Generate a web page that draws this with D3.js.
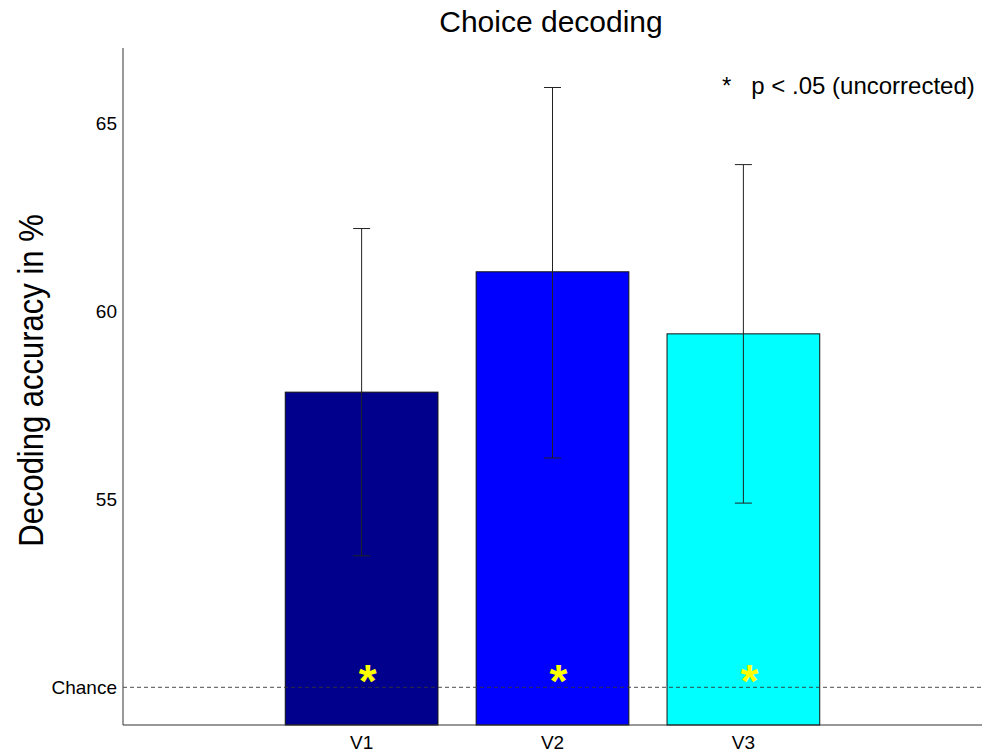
<!DOCTYPE html>
<html>
<head>
<meta charset="utf-8">
<script src="https://cdn.jsdelivr.net/npm/d3@7"></script>
<style>
  html, body { margin: 0; padding: 0; background: #fff; }
  svg { display: block; font-family: "Liberation Sans", Arial, sans-serif; }
</style>
</head>
<body>
<svg id="chart" width="982" height="753"></svg>
<script>
// Decoding accuracy per visual area
const areas = ["V1", "V2", "V3"];
const accuracy = [57.85, 61.05, 59.4];
const errLow = [53.5, 56.1, 54.9];
const errHigh = [62.2, 65.95, 63.9];
const significant = [true, true, true];
const barColors = ["#00008c", "#0000ff", "#00ffff"];
const yTicks = [55, 60, 65];
const chanceLevel = 50;

(function draw() {
  const svg = d3.select("#chart");
  const plotLeft = 123, plotRight = 982, plotTop = 48, plotBottom = 725;

  const x = d3.scaleLinear().domain([-0.25, 4.25]).range([plotLeft, plotRight]);
  const y = d3.scaleLinear().domain([49, 67]).range([plotBottom, plotTop]);
  const barW = x(0.8) - x(0);

  // Title
  svg.append("text")
    .attr("x", 551).attr("y", 32)
    .attr("text-anchor", "middle")
    .attr("font-size", 30)
    .text("Choice decoding");

  // Y axis label
  svg.append("text")
    .attr("transform", `translate(43,${(plotTop + plotBottom) / 2 - 6}) rotate(-90) scale(1,1.15)`)
    .attr("text-anchor", "middle")
    .attr("font-size", 31)
    .text("Decoding accuracy in %");

  // Bars
  areas.forEach((a, i) => {
    svg.append("rect")
      .attr("x", x(i + 1) - barW / 2)
      .attr("y", y(accuracy[i]))
      .attr("width", barW)
      .attr("height", y(49) - y(accuracy[i]))
      .attr("fill", barColors[i])
      .attr("stroke", "#111")
      .attr("stroke-width", 1);
  });

  // Chance line
  svg.append("line")
    .attr("x1", plotLeft).attr("x2", plotRight)
    .attr("y1", y(chanceLevel)).attr("y2", y(chanceLevel))
    .attr("stroke", "#333")
    .attr("stroke-opacity", 0.7)
    .attr("stroke-width", 1.2)
    .attr("stroke-dasharray", "4,3");

  // Error bars
  const cap = 8.5;
  areas.forEach((a, i) => {
    const cx = x(i + 1);
    const g = svg.append("g").attr("stroke", "#222").attr("stroke-width", 1);
    g.append("line").attr("x1", cx).attr("x2", cx).attr("y1", y(errLow[i])).attr("y2", y(errHigh[i]));
    g.append("line").attr("x1", cx - cap).attr("x2", cx + cap).attr("y1", y(errLow[i])).attr("y2", y(errLow[i]));
    g.append("line").attr("x1", cx - cap).attr("x2", cx + cap).attr("y1", y(errHigh[i])).attr("y2", y(errHigh[i]));
  });

  // Significance markers
  areas.forEach((a, i) => {
    if (!significant[i]) return;
    svg.append("text")
      .attr("x", x(i + 1) + 6)
      .attr("y", y(chanceLevel) + 10)
      .attr("text-anchor", "middle")
      .attr("font-size", 46)
      .attr("font-weight", "bold")
      .attr("fill", "#ffff00")
      .text("*");
  });

  // Axis lines
  svg.append("line")
    .attr("x1", plotLeft).attr("x2", plotLeft)
    .attr("y1", plotTop).attr("y2", plotBottom)
    .attr("stroke", "#555").attr("stroke-width", 1.2);
  svg.append("line")
    .attr("x1", plotLeft).attr("x2", plotRight)
    .attr("y1", plotBottom).attr("y2", plotBottom)
    .attr("stroke", "#333").attr("stroke-width", 1.2);

  // Y tick labels
  yTicks.forEach(t => {
    svg.append("text")
      .attr("x", plotLeft - 6).attr("y", y(t) + 7)
      .attr("text-anchor", "end")
      .attr("font-size", 19)
      .text(t);
  });
  svg.append("text")
    .attr("x", plotLeft - 6).attr("y", y(chanceLevel) + 7)
    .attr("text-anchor", "end")
    .attr("font-size", 19)
    .text("Chance");

  // X tick labels
  areas.forEach((a, i) => {
    svg.append("text")
      .attr("x", x(i + 1)).attr("y", 749)
      .attr("text-anchor", "middle")
      .attr("font-size", 19)
      .text(a);
  });

  // Legend
  svg.append("text")
    .attr("x", 722).attr("y", 94)
    .attr("font-size", 24)
    .style("white-space", "pre")
    .text("*   p < .05 (uncorrected)");
})();
</script>
</body>
</html>
